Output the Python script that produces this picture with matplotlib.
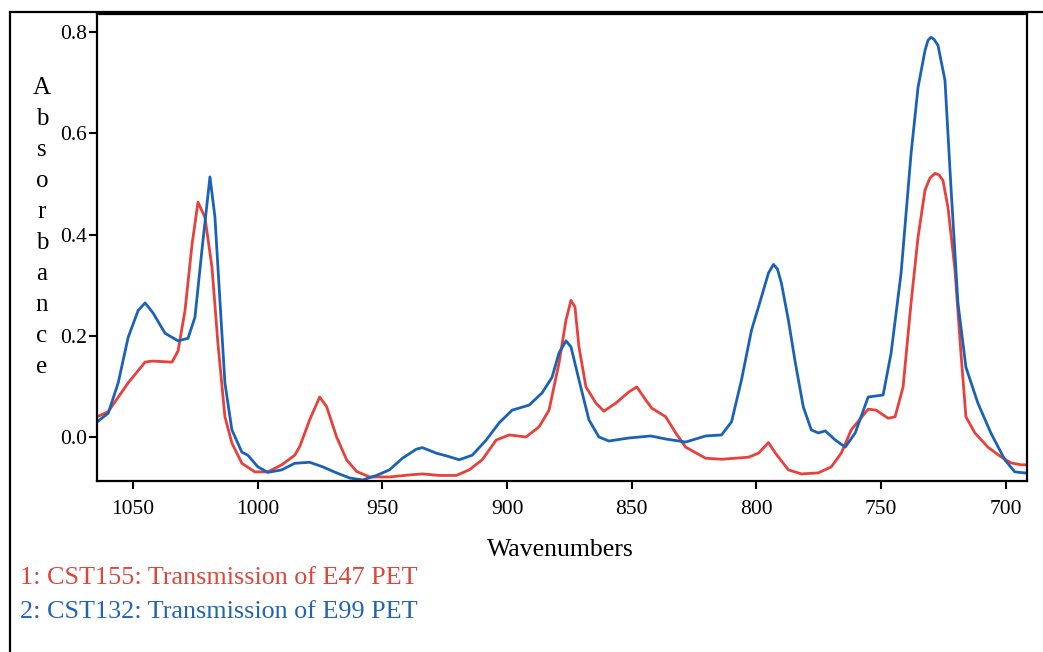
import matplotlib.pyplot as plt
from matplotlib.lines import Line2D

# === DATA ===

red_wn = [1064.4, 1060, 1052, 1045.2, 1042.4, 1034.4, 1032, 1029.2, 1026.4, 1024,
          1021.2, 1018.4, 1016, 1013.2, 1010.4, 1006.4, 1001.2, 996, 990.4, 985.2,
          983.2, 979.2, 975.2, 972.4, 968.4, 964.4, 960.4, 955.2, 947.2, 939.2,
          934, 927.2, 920.4, 915.2, 910, 904.4, 899.2, 892.4, 887.2, 883.2,
          879.2, 876.4, 874.4, 872.8, 871.2, 868.4, 864.4, 861.2, 856.4, 851.2,
          848, 844.4, 842, 836.4, 832.4, 828.4, 820.4, 814, 803.2, 799.2,
          795.2, 792.4, 787.2, 782, 775.2, 770, 766, 762, 755.2, 752,
          747.2, 744.4, 741.2, 738, 735.2, 732.4, 730.4, 728.4, 726.8, 725.2,
          723.2, 720.4, 718, 716, 712.4, 707.2, 702, 698, 694, 692.4]
red_abs = [0.04, 0.05, 0.107, 0.148, 0.15, 0.148, 0.17, 0.25, 0.38, 0.464,
           0.434, 0.336, 0.185, 0.04, -0.012, -0.052, -0.069, -0.069, -0.055, -0.036,
           -0.019, 0.034, 0.079, 0.06, 0.0, -0.045, -0.068, -0.079, -0.079, -0.075,
           -0.073, -0.076, -0.076, -0.065, -0.045, -0.006, 0.004, 0.0, 0.02, 0.053,
           0.146, 0.231, 0.27, 0.257, 0.178, 0.099, 0.067, 0.051, 0.067, 0.089,
           0.099, 0.073, 0.057, 0.04, 0.008, -0.02, -0.042, -0.044, -0.04, -0.032,
           -0.011, -0.032, -0.065, -0.073, -0.071, -0.059, -0.032, 0.014, 0.055, 0.053,
           0.037, 0.04, 0.099, 0.265, 0.395, 0.488, 0.512, 0.521, 0.518, 0.507,
           0.454, 0.33, 0.166, 0.04, 0.008, -0.02, -0.039, -0.051, -0.055, -0.055]

blue_wn = [1064.4, 1060, 1056, 1052, 1048, 1045.2, 1042, 1037.2, 1032, 1028,
           1025.2, 1022.4, 1019.2, 1017.2, 1015.2, 1013.2, 1010.4, 1006.4, 1004, 1000,
           996, 990.4, 985.2, 979.2, 974, 968.4, 963.2, 958, 952.4, 947.2,
           942, 936.4, 934, 928.4, 923.2, 919.2, 914, 908.4, 903.2, 898,
           891.2, 886, 882, 879.2, 876.4, 874.4, 871.2, 867.2, 863.2, 859.2,
           851.2, 842.4, 836.4, 828.4, 820.4, 814, 810, 806, 802, 798.4,
           795.2, 793.2, 791.6, 790, 787.2, 784.4, 781.2, 778, 775.2, 772.4, 768.4,
           764.4, 760.4, 755.2, 749.2, 746, 742, 738, 735.2, 732.4, 731.2, 730,
           728.8, 727.2, 724.4, 722, 719.2, 716, 711.2, 706, 700.4, 696.4, 692.4]
blue_abs = [0.03, 0.047, 0.107, 0.197, 0.25, 0.265, 0.245, 0.205, 0.19, 0.195,
            0.237, 0.37, 0.514, 0.435, 0.27, 0.107, 0.014, -0.03, -0.036, -0.059,
            -0.07, -0.065, -0.052, -0.05, -0.059, -0.071, -0.081, -0.085, -0.076, -0.065,
            -0.042, -0.024, -0.021, -0.032, -0.039, -0.045, -0.036, -0.006, 0.028, 0.053,
            0.063, 0.087, 0.118, 0.166, 0.19, 0.178, 0.113, 0.034, 0.0, -0.008,
            -0.002, 0.002, -0.004, -0.01, 0.002, 0.004, 0.03, 0.113, 0.211, 0.27,
            0.324, 0.341, 0.332, 0.304, 0.231, 0.146, 0.059, 0.014, 0.008, 0.012, -0.006,
            -0.02, 0.008, 0.079, 0.083, 0.166, 0.324, 0.56, 0.691, 0.764, 0.784, 0.79,
            0.786, 0.774, 0.705, 0.494, 0.265, 0.138, 0.067, 0.008, -0.045, -0.069, -0.071]

x_ticks = [1050, 1000, 950, 900, 850, 800, 750, 700]
y_ticks = [0.0, 0.2, 0.4, 0.6, 0.8]

legend_lines = ["1: CST155: Transmission of E47 PET",
                "2: CST132: Transmission of E99 PET"]

RED = "#e8403a"
BLUE = "#1a62b8"

plt.rcParams["font.family"] = ["Liberation Serif", "DejaVu Serif"]

W, H = 1043, 652
fig = plt.figure(figsize=(W / 100, H / 100), dpi=100)
ax = fig.add_axes([97 / W, 1 - 481 / H, (1027 - 97) / W, (481 - 14) / H])

ax.plot(red_wn, red_abs, color=RED, lw=2.0, solid_joinstyle="round")
ax.plot(blue_wn, blue_abs, color=BLUE, lw=2.0, solid_joinstyle="round")

ax.set_xlim(1064.5, 691.5)
ax.set_ylim(-0.087, 0.836)
ax.set_xticks(x_ticks)
ax.set_xticklabels([str(t) for t in x_ticks])
ax.set_yticks(y_ticks)
ax.set_yticklabels([f"{t:.1f}" for t in y_ticks])
ax.tick_params(direction="out", length=6, width=1.5, labelsize=15.5)
ax.tick_params(axis="x", pad=8)
ax.tick_params(axis="y", pad=1)
for s in ax.spines.values():
    s.set_linewidth(1.6)

# stacked y label
ylab = "Absorbance"
for i, ch in enumerate(ylab):
    fig.text(42 / W, 1 - (88 + i * 31) / H, ch, ha="center", va="center", fontsize=18)

fig.text(560 / W, 1 - 550 / H, "Wavenumbers", ha="center", va="center", fontsize=18.5)
fig.text(20 / W, 1 - 578 / H, legend_lines[0], ha="left", va="center",
         fontsize=18.8, color="#e0453a")
fig.text(20 / W, 1 - 612 / H, legend_lines[1], ha="left", va="center",
         fontsize=18.8, color="#2264b4")

# outer frame (top and left edges)
fig.add_artist(Line2D([10 / W, 10 / W], [0, 1 - 12 / H], color="black", lw=1.6))
fig.add_artist(Line2D([10 / W, 1], [1 - 12 / H, 1 - 12 / H], color="black", lw=1.6))

fig.savefig("out.png", dpi=100)
